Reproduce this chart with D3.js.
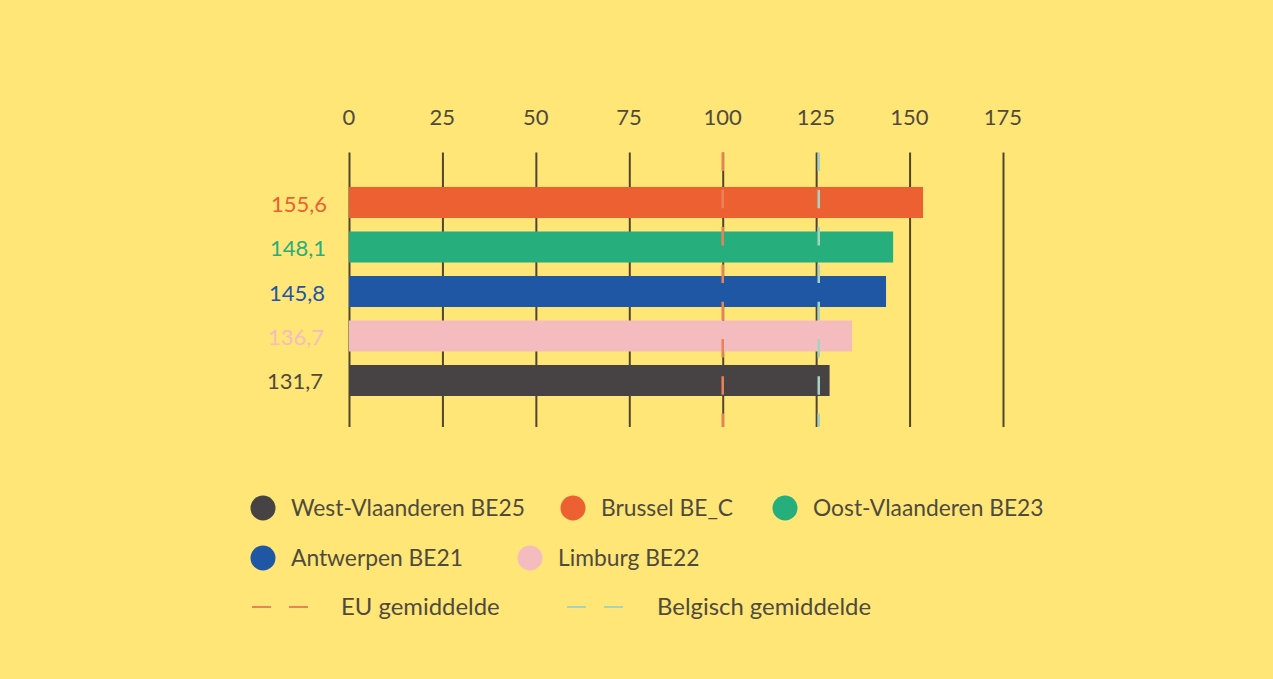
<!DOCTYPE html>
<html>
<head>
<meta charset="utf-8">
<script src="https://cdn.jsdelivr.net/npm/d3@7"></script>
<style>
    html, body { margin: 0; padding: 0; background: #ffe677; }
    svg { display: block; }
    text { font-family: Lato, "Noto Sans", sans-serif; }
</style>
</head>
<body>
<svg id="chart" width="1273" height="679"></svg>
<script>
// data
const regios = ["Brussel BE_C", "Oost-Vlaanderen BE23", "Antwerpen BE21", "Limburg BE22", "West-Vlaanderen BE25"]
const waarden = [153.6, 145.6, 143.7, 134.6, 128.6]
const labels = ["155,6", "148,1", "145,8", "136,7", "131,7"]
const kleuren = ["#ec6032", "#26ae7c", "#1f57a4", "#f5bcc0", "#474345"]
const ticks = [0, 25, 50, 75, 100, 125, 150, 175]
const euGemiddelde = 100
const belgischGemiddelde = 125.7

const legendaVolgorde = ["West-Vlaanderen BE25", "Brussel BE_C", "Oost-Vlaanderen BE23", "Antwerpen BE21", "Limburg BE22"]
const lijnLabels = ["EU gemiddelde", "Belgisch gemiddelde"]

const tekstKleur = "#4f4b3c"
const euKleur = "#ea8358"
const beKleur = "#a5d3c0"

var svg = d3.select("#chart")

var x = d3.scaleLinear()
    .domain([0, 175])
    .range([349, 1003])

var y = d3.scaleBand()
    .domain(regios)
    .range([187, 396])
    .paddingInner(0.303)

// axis with gridlines
var top_ = 152.5, bottom = 427

var gx = svg.append("g")
    .attr("transform", `translate(0, ${top_})`)
    .call(d3.axisTop(x).tickValues(ticks).tickSize(top_ - bottom).tickPadding(28))

gx.select(".domain").remove()
gx.selectAll("line")
    .attr("stroke", "#4f4630")
    .attr("stroke-width", 2)
gx.selectAll("text")
    .attr("fill", tekstKleur)
    .attr("dx", -0.7)
    .style("font-size", "22px")
    .style("font-family", "Lato, sans-serif")

// bars
svg.selectAll(".bar")
    .data(regios)
    .enter()
    .append("rect")
    .attr("class", "bar")
    .attr("x", x(0))
    .attr("y", d => y(d))
    .attr("width", (d, i) => x(waarden[i]) - x(0))
    .attr("height", y.bandwidth())
    .attr("fill", (d, i) => kleuren[i])

// value labels, they creep slightly to the left going down
svg.selectAll(".waarde")
    .data(regios)
    .enter()
    .append("text")
    .attr("class", "waarde")
    .attr("x", (d, i) => x(0) - 22 - i)
    .attr("y", d => y(d) + y.bandwidth() / 2 + 9)
    .attr("text-anchor", "end")
    .style("font-size", "22px")
    .attr("fill", (d, i) => i == 4 ? tekstKleur : kleuren[i])
    .text((d, i) => labels[i])

// average lines
function gemiddelde(waarde, kleur) {
    svg.append("line")
        .attr("x1", x(waarde))
        .attr("x2", x(waarde))
        .attr("y1", top_)
        .attr("y2", bottom)
        .attr("stroke", kleur)
        .attr("stroke-width", 2.5)
        .attr("stroke-dasharray", "18.5 18.8")
}
gemiddelde(euGemiddelde, euKleur)
gemiddelde(belgischGemiddelde, beKleur)

// legend
var legendaX = [263, 573, 785, 263, 530]
var legendaY = [508, 508, 508, 558, 558]

var items = svg.selectAll(".legenda")
    .data(legendaVolgorde)
    .enter()
    .append("g")
    .attr("class", "legenda")
    .attr("transform", (d, i) => `translate(${legendaX[i]}, ${legendaY[i]})`)

items.append("circle")
    .attr("r", 12.5)
    .attr("fill", d => kleuren[regios.indexOf(d)])

items.append("text")
    .attr("x", 28)
    .attr("y", 8)
    .attr("fill", tekstKleur)
    .style("font-size", "22.8px")
    .text(d => d)

var lijnX = [252, 567]
var lijnKleuren = [euKleur, beKleur]
var lijnTekstX = [341, 657]

lijnLabels.forEach(function(label, i) {
    svg.append("line")
        .attr("x1", lijnX[i])
        .attr("x2", lijnX[i] + 56)
        .attr("y1", 607)
        .attr("y2", 607)
        .attr("stroke", lijnKleuren[i])
        .attr("stroke-width", 2)
        .attr("stroke-dasharray", "19 18")

    svg.append("text")
        .attr("x", lijnTekstX[i])
        .attr("y", 615)
        .attr("fill", tekstKleur)
        .style("font-size", "23.9px")
        .text(label)
})
</script>
</body>
</html>
